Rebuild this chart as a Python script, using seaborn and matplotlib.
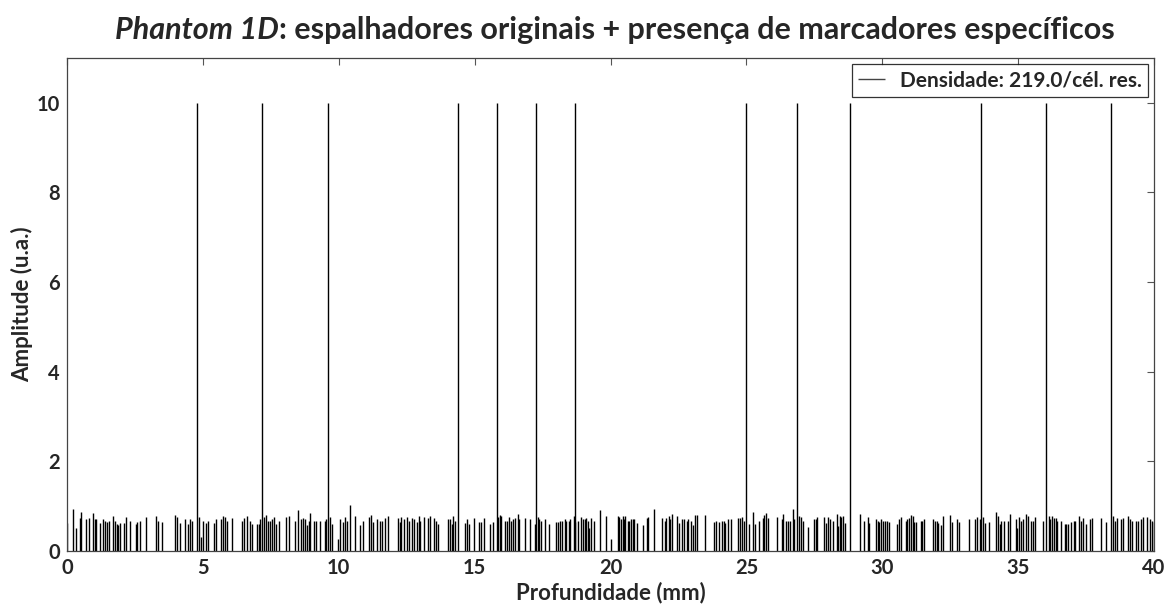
import numpy as np
import pandas as pd
import matplotlib
matplotlib.use("Agg")
import matplotlib.pyplot as plt
import seaborn as sns

# ---- data ----
marker_depth_mm = [4.78, 7.18, 9.59, 14.40, 15.82, 17.26, 18.71, 24.98, 26.86, 28.82, 33.63, 36.03, 38.43]
marker_amp = [10.0] * len(marker_depth_mm)

scat_depth_mm = [
    0.01, 0.23, 0.32, 0.47, 0.53, 0.69, 0.81, 0.96, 1.02, 1.08, 1.20, 1.31, 1.39, 1.46, 1.55, 1.69,
    1.77, 1.83, 1.89, 1.95, 2.10, 2.16, 2.32, 2.53, 2.59, 2.69, 2.92, 3.29, 3.35, 3.51, 3.97, 4.03,
    4.16, 4.34, 4.45, 4.53, 4.61, 4.86, 4.94, 5.02, 5.10, 5.19, 5.41, 5.49, 5.68, 5.74, 5.80, 5.90,
    6.08, 6.43, 6.51, 6.61,
    6.75, 6.82, 6.99, 7.05, 7.11, 7.25, 7.33, 7.40, 7.48, 7.54, 7.60, 7.70, 7.79, 8.07, 8.16, 8.40,
    8.50, 8.60, 8.67, 8.77, 8.83, 8.89, 8.94, 9.08, 9.16, 9.30, 9.48, 9.54, 9.66, 9.75, 9.97, 10.04,
    10.15, 10.22, 10.31, 10.40, 10.58, 10.77, 10.89, 11.10, 11.17, 11.26, 11.42, 11.50, 11.59, 11.71,
    11.81, 12.18, 12.25, 12.30, 12.39, 12.51, 12.58, 12.69, 12.76, 12.88, 12.94, 13.00, 13.12, 13.28,
    13.36,
    13.49, 13.59, 13.64, 14.02, 14.10, 14.17, 14.20, 14.29, 14.66, 14.71, 14.80, 14.96, 15.17, 15.23,
    15.33, 15.58, 15.66, 15.86, 15.92, 15.98, 16.13, 16.19, 16.25, 16.35, 16.40, 16.50, 16.59, 16.64,
    16.84, 17.05, 17.23, 17.33, 17.38, 17.45, 17.58, 17.72, 17.99, 18.07, 18.15, 18.21, 18.31, 18.37,
    18.46, 18.52, 18.64, 18.70, 18.80, 18.91, 18.97, 19.05, 19.11, 19.16, 19.22, 19.28, 19.38, 19.60,
    19.84, 20.02,
    20.26, 20.32, 20.38, 20.45, 20.51, 20.54, 20.63, 20.69, 20.75, 20.81, 20.87, 20.96, 21.18, 21.33,
    21.39, 21.59, 21.88, 22.00, 22.06, 22.14, 22.20, 22.25, 22.43, 22.53, 22.62, 22.69, 22.80, 22.87,
    22.96, 23.05, 23.11, 23.17, 23.49, 23.82, 23.90, 23.98, 24.10, 24.16, 24.22, 24.31, 24.43, 24.68,
    24.76, 24.84, 24.92, 25.11, 25.23, 25.33, 25.45, 25.60, 25.66, 25.74, 25.80, 26.12, 26.30, 26.36,
    26.45, 26.54, 26.60, 26.70, 26.76, 26.92,
    27.01, 27.07, 27.28, 27.49, 27.55, 27.61, 27.85, 27.93, 28.01, 28.07, 28.17, 28.32, 28.38, 28.44,
    28.50, 28.56, 28.63, 29.18, 29.34, 29.46, 29.52, 29.77, 29.83, 29.89, 29.97, 30.04, 30.10, 30.18,
    30.26, 30.53, 30.62, 30.69, 30.87, 30.92, 30.99, 31.05, 31.12, 31.18, 31.24, 31.41, 31.45, 31.53,
    31.88, 31.94, 32.00, 32.06, 32.18, 32.24, 32.51, 32.57, 32.76, 32.82, 33.20, 33.41, 33.47, 33.59,
    33.69,
    33.78, 33.92, 34.17, 34.26, 34.33, 34.38, 34.48, 34.62, 34.70, 34.91, 34.97, 35.03, 35.09, 35.19,
    35.30, 35.36, 35.46, 35.54, 35.62, 35.92, 36.13, 36.19, 36.25, 36.32, 36.38, 36.44, 36.56, 36.72,
    36.78, 36.84, 36.95, 37.05, 37.11, 37.24, 37.32, 37.39, 37.48, 37.66, 37.73, 38.06, 38.22, 38.49,
    38.56, 38.65, 38.79, 38.87, 39.04, 39.10, 39.20, 39.32, 39.41, 39.51, 39.60, 39.75, 39.85, 39.93,
    39.99,
]
scat_amp = [
    0.63, 0.93, 0.51, 0.73, 0.87, 0.71, 0.73, 0.85, 0.72, 0.72, 0.63, 0.72, 0.66, 0.65, 0.66, 0.78,
    0.68, 0.61, 0.59, 0.63, 0.63, 0.75, 0.68, 0.61, 0.65, 0.68, 0.76, 0.78, 0.68, 0.65, 0.81, 0.76,
    0.63, 0.72, 0.61, 0.71, 0.68, 0.76, 0.31, 0.68, 0.63, 0.68, 0.63, 0.71, 0.72, 0.79, 0.76, 0.68,
    0.73, 0.68, 0.73, 0.78,
    0.68, 0.61, 0.61, 0.61, 0.72, 0.76, 0.81, 0.66, 0.68, 0.71, 0.76, 0.61, 0.68, 0.76, 0.79, 0.66,
    0.91, 0.71, 0.73, 0.71, 0.59, 0.68, 0.85, 0.68, 0.66, 0.68, 0.66, 0.72, 0.76, 0.61, 0.26, 0.72,
    0.65, 0.76, 0.68, 1.03, 0.78, 0.57, 0.68, 0.76, 0.81, 0.65, 0.71, 0.68, 0.66, 0.73,
    0.78, 0.73, 0.65, 0.76, 0.71, 0.76, 0.66, 0.73, 0.72, 0.65, 0.79, 0.68, 0.76, 0.73,
    0.79,
    0.73, 0.68, 0.61, 0.71, 0.71, 0.61, 0.79, 0.68, 0.63, 0.71, 0.61, 0.73, 0.65, 0.65,
    0.73, 0.61, 0.65, 0.76, 0.81, 0.78, 0.66, 0.68, 0.76, 0.68, 0.71, 0.73, 0.83, 0.71,
    0.73, 0.71, 0.61, 0.76, 0.72, 0.68, 0.71, 0.61, 0.65, 0.65, 0.66, 0.68, 0.71, 0.66,
    0.68, 0.71, 0.79, 0.65, 0.66, 0.76, 0.71, 0.72, 0.73, 0.68, 0.51, 0.73, 0.66, 0.91,
    0.78, 0.26,
    0.78, 0.76, 0.72, 0.78, 0.72, 0.78, 0.68, 0.66, 0.72, 0.72, 0.72, 0.63, 0.59, 0.73,
    0.76, 0.93, 0.73, 0.66, 0.73, 0.79, 0.71, 0.83, 0.79, 0.63, 0.72, 0.72, 0.68, 0.71,
    0.66, 0.57, 0.81, 0.81, 0.81, 0.65, 0.66, 0.65, 0.68, 0.68, 0.63, 0.72, 0.72, 0.73,
    0.73, 0.76, 0.66, 0.61, 0.88, 0.61, 0.66, 0.73, 0.81, 0.85, 0.73, 0.76, 0.71, 0.83,
    0.66, 0.66, 0.66, 0.94, 0.72, 0.78,
    0.76, 0.66, 0.53, 0.71, 0.72, 0.76, 0.76, 0.63, 0.76, 0.72, 0.66, 0.83, 0.56, 0.79,
    0.76, 0.78, 0.63, 0.83, 0.68, 0.76, 0.63, 0.71, 0.66, 0.65, 0.72, 0.68, 0.66, 0.66,
    0.65, 0.61, 0.72, 0.76, 0.68, 0.72, 0.73, 0.81, 0.78, 0.65, 0.65, 0.66, 0.68, 0.71,
    0.71, 0.68, 0.68, 0.63, 0.57, 0.79, 0.81, 0.65, 0.72, 0.65, 0.72, 0.72, 0.76, 0.71,
    0.76,
    0.63, 0.65, 0.87, 0.78, 0.61, 0.68, 0.68, 0.66, 0.83, 0.71, 0.51, 0.76, 0.66, 0.71,
    0.83, 0.79, 0.68, 0.68, 0.76, 0.66, 0.79, 0.71, 0.78, 0.73, 0.73, 0.68, 0.68, 0.61,
    0.61, 0.61, 0.65, 0.68, 0.68, 0.78, 0.66, 0.73, 0.61, 0.72, 0.73, 0.73, 0.65, 0.79,
    0.66, 0.73, 0.72, 0.73, 0.78, 0.72, 0.68, 0.68, 0.68, 0.71, 0.76, 0.76, 0.71, 0.68,
    0.65,
]

x_ticks = [0, 5, 10, 15, 20, 25, 30, 35, 40]
y_ticks = [0, 2, 4, 6, 8, 10]
legend_label = "Densidade: 219.0/cél. res."
title_italic = "Phantom 1D"
title_rest = ": espalhadores originais + presença de marcadores específicos"
x_label = "Profundidade (mm)"
y_label = "Amplitude (u.a.)"

# ---- build table ----
df = pd.DataFrame({
    "depth": list(scat_depth_mm) + list(marker_depth_mm),
    "amp": list(scat_amp) + list(marker_amp),
})

sns.set_theme(style="white")
plt.rcParams["font.family"] = ["Lato", "DejaVu Sans"]
plt.rcParams["font.weight"] = "bold"

fig = plt.figure(figsize=(11.7, 6.05), dpi=100)
ax = fig.add_axes([67 / 1170, 1 - 551 / 605, (1154 - 67) / 1170, (551 - 58) / 605])

ax.vlines(df["depth"], 0, df["amp"], colors="black", linewidth=1.0, label=legend_label)

ax.set_xlim(0, 40)
ax.set_ylim(0, 11)
ax.set_xticks(x_ticks)
ax.set_yticks(y_ticks)
ax.tick_params(axis="both", which="both", direction="in", top=True, right=True,
               length=5, width=0.8, color="#555555", labelsize=14.5, pad=5)
for lab in ax.get_xticklabels() + ax.get_yticklabels():
    lab.set_fontweight("bold")
for s in ax.spines.values():
    s.set_color("#444444")
    s.set_linewidth(0.9)

ax.set_xlabel(x_label, fontsize=16, fontweight="bold", labelpad=3)
ax.set_ylabel(y_label, fontsize=16, fontweight="bold", labelpad=3)

leg = ax.legend(loc="upper right", frameon=True, fancybox=False, fontsize=15,
                handlelength=1.3, handletextpad=0.7, borderaxespad=0.3, borderpad=0.3)
leg.get_frame().set_edgecolor("black")
leg.get_frame().set_linewidth(0.9)
for t in leg.get_texts():
    t.set_fontweight("bold")
for h in leg.legend_handles:
    h.set_color("#444444")

# ---- title with italic part ----
fig.canvas.draw()
r = fig.canvas.get_renderer()
ty = 1 - 30 / 605
t1 = fig.text(0, ty, title_italic, fontsize=22, fontweight="bold", fontstyle="italic", va="center", ha="left")
t2 = fig.text(0, ty, title_rest, fontsize=22, fontweight="bold", va="center", ha="left")
w1 = t1.get_window_extent(r).width / fig.bbox.width
w2 = t2.get_window_extent(r).width / fig.bbox.width
cx = (117 + 1113) / 2 / 1170
x0 = cx - (w1 + w2) / 2
t1.set_x(x0)
t2.set_x(x0 + w1)

fig.savefig("out.png", dpi=100)
